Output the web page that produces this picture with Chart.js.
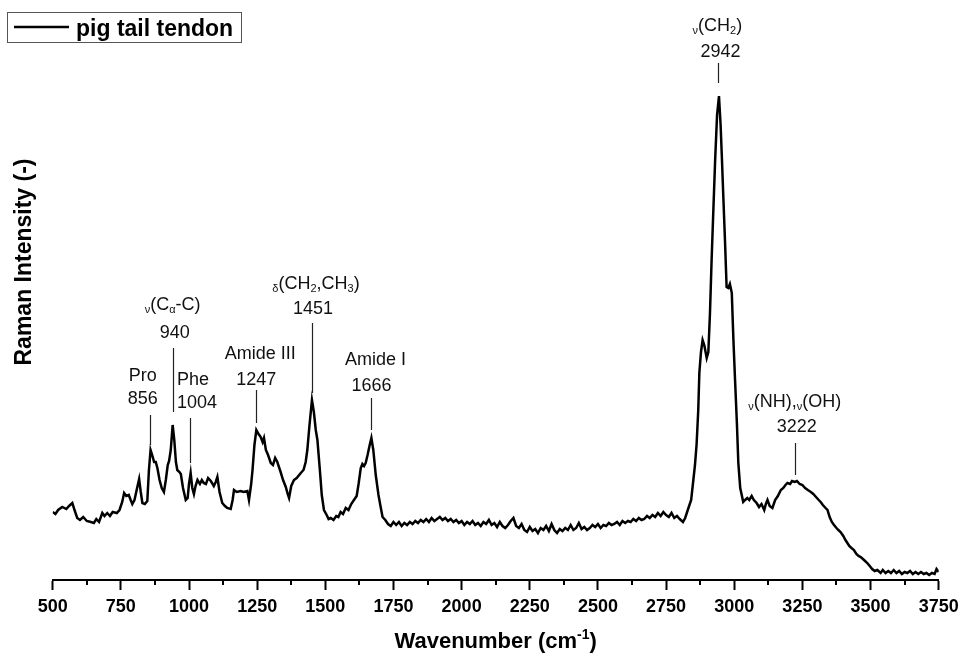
<!DOCTYPE html>
<html lang="en">
<head>
<meta charset="UTF-8">
<title>Raman spectrum - pig tail tendon</title>
<script src="https://cdn.jsdelivr.net/npm/chart.js@4"></script>
<style>
    body { margin: 0; background: #fff; }
    #wrap { width: 960px; height: 661px; }
</style>
</head>
<body>
<div id="wrap"><canvas id="spectrum" width="960" height="661"></canvas></div>
<script>
// spectrum: wavenumber (cm-1) and intensity (arbitrary units)
const wavenumbers = [
    500, 510, 520, 535, 550, 560, 572, 580, 590, 600,
    612, 625, 640, 651, 660, 670, 682, 690, 700, 710,
    720, 735, 745, 755, 762, 770, 779, 786, 792, 800,
    808, 817, 823, 829, 838, 847, 853, 859, 866, 872,
    878, 884, 892, 900, 908, 915, 922, 927, 933, 940,
    946, 952, 957, 965, 970, 978, 988, 995, 1000, 1006,
    1012, 1018, 1024, 1031, 1040, 1047, 1054, 1062, 1070, 1080,
    1091, 1098, 1104, 1112, 1122, 1132, 1140, 1153, 1160, 1165,
    1175, 1190, 1200, 1214, 1220, 1228, 1233, 1240, 1247, 1255,
    1263, 1270, 1275, 1282, 1290, 1300, 1308, 1316, 1324, 1336,
    1345, 1355, 1362, 1367, 1375, 1385, 1395, 1410, 1420, 1428,
    1434, 1442, 1451, 1458, 1465, 1471, 1480, 1487, 1495, 1505,
    1512, 1520, 1530, 1540, 1548, 1556, 1565, 1575, 1585, 1595,
    1605, 1615, 1622, 1630, 1636, 1642, 1648, 1655, 1662, 1669,
    1676, 1685, 1695, 1703, 1710, 1720, 1730, 1740, 1750, 1760,
    1770, 1780, 1790, 1800, 1810, 1820, 1830, 1840, 1850, 1860,
    1870, 1880, 1890, 1900, 1910, 1920, 1930, 1940, 1950, 1960,
    1970, 1980, 1990, 2000, 2010, 2020, 2030, 2040, 2050, 2060,
    2070, 2080, 2090, 2100, 2110, 2120, 2130, 2140, 2150, 2160,
    2170, 2180, 2190, 2200, 2210, 2220, 2230, 2240, 2250, 2260,
    2270, 2280, 2290, 2300, 2310, 2320, 2330, 2340, 2350, 2360,
    2370, 2380, 2390, 2400, 2410, 2420, 2430, 2440, 2450, 2460,
    2470, 2480, 2490, 2500, 2510, 2520, 2530, 2540, 2550, 2560,
    2570, 2580, 2590, 2600, 2610, 2620, 2630, 2640, 2650, 2660,
    2670, 2680, 2690, 2700, 2710, 2720, 2730, 2740, 2750, 2760,
    2770, 2780, 2790, 2800, 2812, 2820, 2832, 2842, 2850, 2856,
    2862, 2868, 2872, 2878, 2884, 2890, 2899, 2905, 2911, 2917,
    2923, 2930, 2937, 2944, 2950, 2955, 2960, 2966, 2972, 2978,
    2984, 2991, 2997, 3003, 3010, 3015, 3022, 3033, 3040, 3048,
    3055, 3064, 3072, 3082, 3091, 3100, 3110, 3116, 3122, 3130,
    3140, 3150, 3160, 3171, 3180, 3188, 3195, 3205, 3212, 3222,
    3230, 3240, 3250, 3260, 3270, 3281, 3290, 3300, 3310, 3317,
    3325, 3335, 3342, 3350, 3358, 3366, 3375, 3382, 3390, 3400,
    3408, 3415, 3422, 3430, 3439, 3448, 3456, 3464, 3472, 3480,
    3488, 3497, 3506, 3515, 3525, 3537, 3545, 3555, 3565, 3575,
    3585, 3595, 3605, 3615, 3625, 3635, 3645, 3655, 3665, 3675,
    3685, 3695, 3705, 3715, 3725, 3735, 3742, 3750
];
const intensities = [
    68, 66, 70, 73, 71, 74, 77, 70, 62, 60,
    63, 59, 58, 57, 61, 58, 67, 64, 67, 64,
    68, 67, 70, 78, 87, 84, 85, 80, 76, 80,
    90, 101, 88, 77, 76, 79, 110, 130, 124, 118,
    118, 112, 100, 92, 88, 100, 115, 119, 130, 155,
    140, 118, 110, 108, 106, 92, 80, 82, 96, 107,
    92, 86, 94, 100, 96, 100, 97, 96, 102, 99,
    94, 98, 103, 88, 77, 74, 72, 71, 80, 90,
    88, 89, 88, 89, 80, 96, 110, 135, 150, 146,
    143, 138, 142, 130, 125, 117, 115, 122, 118, 108,
    100, 93, 86, 82, 94, 100, 102, 107, 110, 118,
    130, 155, 180, 168, 150, 140, 110, 85, 70, 65,
    61, 62, 60, 64, 63, 68, 66, 72, 70, 76,
    80, 84, 96, 112, 116, 114, 117, 125, 134, 142,
    130, 105, 85, 73, 63, 60, 56, 54, 58, 55,
    58, 54, 57, 55, 58, 56, 59, 57, 60, 58,
    61, 58, 62, 59, 61, 63, 60, 62, 59, 61,
    58, 60, 57, 59, 55, 58, 56, 59, 55, 57,
    54, 58, 56, 60, 55, 57, 53, 58, 54, 52,
    55, 59, 62, 54, 52, 56, 50, 48, 53, 49,
    51, 47, 52, 50, 54, 49, 56, 50, 47, 51,
    49, 52, 50, 55, 50, 52, 57, 51, 53, 50,
    52, 55, 53, 56, 52, 55, 54, 57, 55, 56,
    58, 55, 59, 57, 59, 58, 61, 59, 62, 60,
    61, 64, 62, 65, 63, 67, 64, 68, 65, 63,
    67, 62, 64, 61, 58, 62, 72, 80, 100, 115,
    136, 170, 207, 228, 240, 235, 222, 228, 267, 320,
    367, 420, 465, 484, 455, 420, 383, 340, 293, 292,
    296, 287, 240, 200, 155, 117, 92, 78, 80, 82,
    80, 84, 80, 77, 73, 76, 70, 76, 80, 74,
    72, 80, 84, 90, 92, 95, 97, 96, 99, 98,
    99, 96, 95, 92, 90, 88, 86, 83, 80, 78,
    75, 72, 70, 63, 58, 55, 52, 50, 48, 44,
    40, 37, 34, 32, 30, 26, 24, 23, 21, 19,
    17, 14, 11, 9, 10, 7, 10, 7, 9, 7,
    10, 7, 9, 6, 8, 7, 9, 6, 8, 6,
    8, 6, 7, 5, 7, 6, 11, 8
];
const xTickLabels = [500, 750, 1000, 1250, 1500, 1750, 2000, 2250, 2500, 2750, 3000, 3250, 3500, 3750];
const xMinorTicks = [625, 875, 1125, 1375, 1625, 1875, 2125, 2375, 2625, 2875, 3125, 3375, 3625];

// band assignments; _{..} is subscript, ^{..} superscript
const peakPositions = [856, 940, 1004, 1247, 1451, 1666, 2942, 3222];
const peakNames = ['Pro', '_{ν}(C_{α}-C)', 'Phe', 'Amide III', '_{δ}(CH_{2},CH_{3})', 'Amide I', '_{ν}(CH_{2})', '_{ν}(NH),_{ν}(OH)'];
const seriesName = 'pig tail tendon';

// where the marker lines and their captions sit (intensity units, dx in px)
const markLayout = [
    { from: 135, to: 165, nameY: 206, numY: 183, nameDx: -7, numDx: -7 },
    { from: 168, to: 232, nameY: 277, numY: 249, nameDx: 0, numDx: 2 },
    { from: 117, to: 162, nameY: 202, numY: 179, nameDx: 3, numDx: 7 },
    { from: 157, to: 190, nameY: 228, numY: 202, nameDx: 4, numDx: 0 },
    { from: 187, to: 257, nameY: 298, numY: 273, nameDx: 4, numDx: 1 },
    { from: 150, to: 182, nameY: 222, numY: 196, nameDx: 5, numDx: 1 },
    { from: 497, to: 517, nameY: 556, numY: 530, nameDx: -1, numDx: 2 },
    { from: 105, to: 137, nameY: 180, numY: 155, nameDx: 0, numDx: 2 }
];

const FONT = "'Liberation Sans', Arial, Helvetica, sans-serif";

function parseRich(str) {
    const parts = [];
    const re = /([_^])\{([^}]*)\}|([^_^]+)/g;
    let m;
    while ((m = re.exec(str))) {
        if (m[3]) parts.push({ text: m[3], mode: 'normal' });
        else parts.push({ text: m[2], mode: m[1] === '_' ? 'sub' : 'sup' });
    }
    return parts;
}

// draws text with sub/superscripts, centred on cx, on the given baseline
function drawRich(ctx, str, cx, baseline, size, weight) {
    const parts = parseRich(str);
    const small = Math.round(size * 0.62);
    const fontFor = p => `${weight} ${p.mode === 'normal' ? size : small}px ${FONT}`;
    let total = 0;
    parts.forEach(p => {
        ctx.font = fontFor(p);
        p.w = ctx.measureText(p.text).width;
        total += p.w;
    });
    let x = cx - total / 2;
    ctx.textAlign = 'left';
    ctx.textBaseline = 'alphabetic';
    parts.forEach(p => {
        ctx.font = fontFor(p);
        const dy = p.mode === 'sub' ? size * 0.22 : (p.mode === 'sup' ? -size * 0.42 : 0);
        ctx.fillText(p.text, x, baseline + dy);
        x += p.w;
    });
}

const decorations = {
    id: 'decorations',
    afterDraw(chart) {
        const ctx = chart.ctx;
        const xs = chart.scales.x;
        const ys = chart.scales.y;
        const area = chart.chartArea;
        ctx.save();

        // minor ticks
        ctx.strokeStyle = '#000';
        ctx.lineWidth = 2;
        xMinorTicks.forEach(v => {
            const px = Math.round(xs.getPixelForValue(v));
            ctx.beginPath();
            ctx.moveTo(px, area.bottom);
            ctx.lineTo(px, area.bottom + 5);
            ctx.stroke();
        });

        // peak markers and captions
        ctx.fillStyle = '#111';
        peakPositions.forEach((wn, i) => {
            const lay = markLayout[i];
            const px = xs.getPixelForValue(wn);
            ctx.strokeStyle = '#222';
            ctx.lineWidth = 1.2;
            ctx.beginPath();
            ctx.moveTo(Math.round(px) + 0.5, ys.getPixelForValue(lay.from));
            ctx.lineTo(Math.round(px) + 0.5, ys.getPixelForValue(lay.to));
            ctx.stroke();
            drawRich(ctx, peakNames[i], px + lay.nameDx, ys.getPixelForValue(lay.nameY) + 6.5, 18, 'normal');
            drawRich(ctx, String(wn), px + lay.numDx, ys.getPixelForValue(lay.numY) + 6.5, 18, 'normal');
        });

        // axis titles
        ctx.fillStyle = '#000';
        drawRich(ctx, 'Wavenumber (cm^{-1})', (area.left + area.right) / 2, 648, 22, 'bold');
        ctx.save();
        ctx.translate(23, 262);
        ctx.rotate(-Math.PI / 2);
        drawRich(ctx, 'Raman Intensity (-)', 0, 8, 23, 'bold');
        ctx.restore();

        // legend box
        ctx.strokeStyle = '#555';
        ctx.lineWidth = 1;
        ctx.strokeRect(7.5, 12.5, 234, 30);
        ctx.strokeStyle = '#000';
        ctx.lineWidth = 2.5;
        ctx.beginPath();
        ctx.moveTo(14, 27);
        ctx.lineTo(69, 27);
        ctx.stroke();
        ctx.font = `bold 23px ${FONT}`;
        ctx.textAlign = 'left';
        ctx.textBaseline = 'alphabetic';
        ctx.fillText(seriesName, 76, 35.5);

        ctx.restore();
    }
};

const points = wavenumbers.map((wn, i) => ({ x: wn, y: intensities[i] }));

new Chart(document.getElementById('spectrum'), {
    type: 'line',
    data: {
        datasets: [{
            label: seriesName,
            data: points,
            borderColor: '#000',
            borderWidth: 2.5,
            pointRadius: 0,
            tension: 0,
            fill: false
        }]
    },
    options: {
        responsive: false,
        animation: false,
        devicePixelRatio: 1,
        layout: { padding: { left: 52.7, right: 21.3, top: 10, bottom: 0 } },
        plugins: {
            legend: { display: false },
            tooltip: { enabled: false }
        },
        scales: {
            x: {
                type: 'linear',
                min: xTickLabels[0],
                max: xTickLabels[xTickLabels.length - 1],
                afterFit(scale) {
                    scale.height = 81;
                    scale.paddingLeft = 0;
                    scale.paddingRight = 0;
                },
                afterBuildTicks(scale) { scale.ticks = xTickLabels.map(v => ({ value: v })); },
                ticks: {
                    autoSkip: false,
                    maxRotation: 0,
                    padding: 6,
                    color: '#000',
                    font: { family: FONT, size: 18, weight: 'bold' },
                    callback: v => String(v)
                },
                grid: {
                    drawOnChartArea: false,
                    drawTicks: true,
                    tickLength: 10,
                    tickWidth: 2,
                    tickColor: '#000'
                },
                border: { display: true, color: '#000', width: 2 }
            },
            y: {
                display: false,
                min: 0,
                max: 570
            }
        }
    },
    plugins: [decorations]
});
</script>
</body>
</html>
